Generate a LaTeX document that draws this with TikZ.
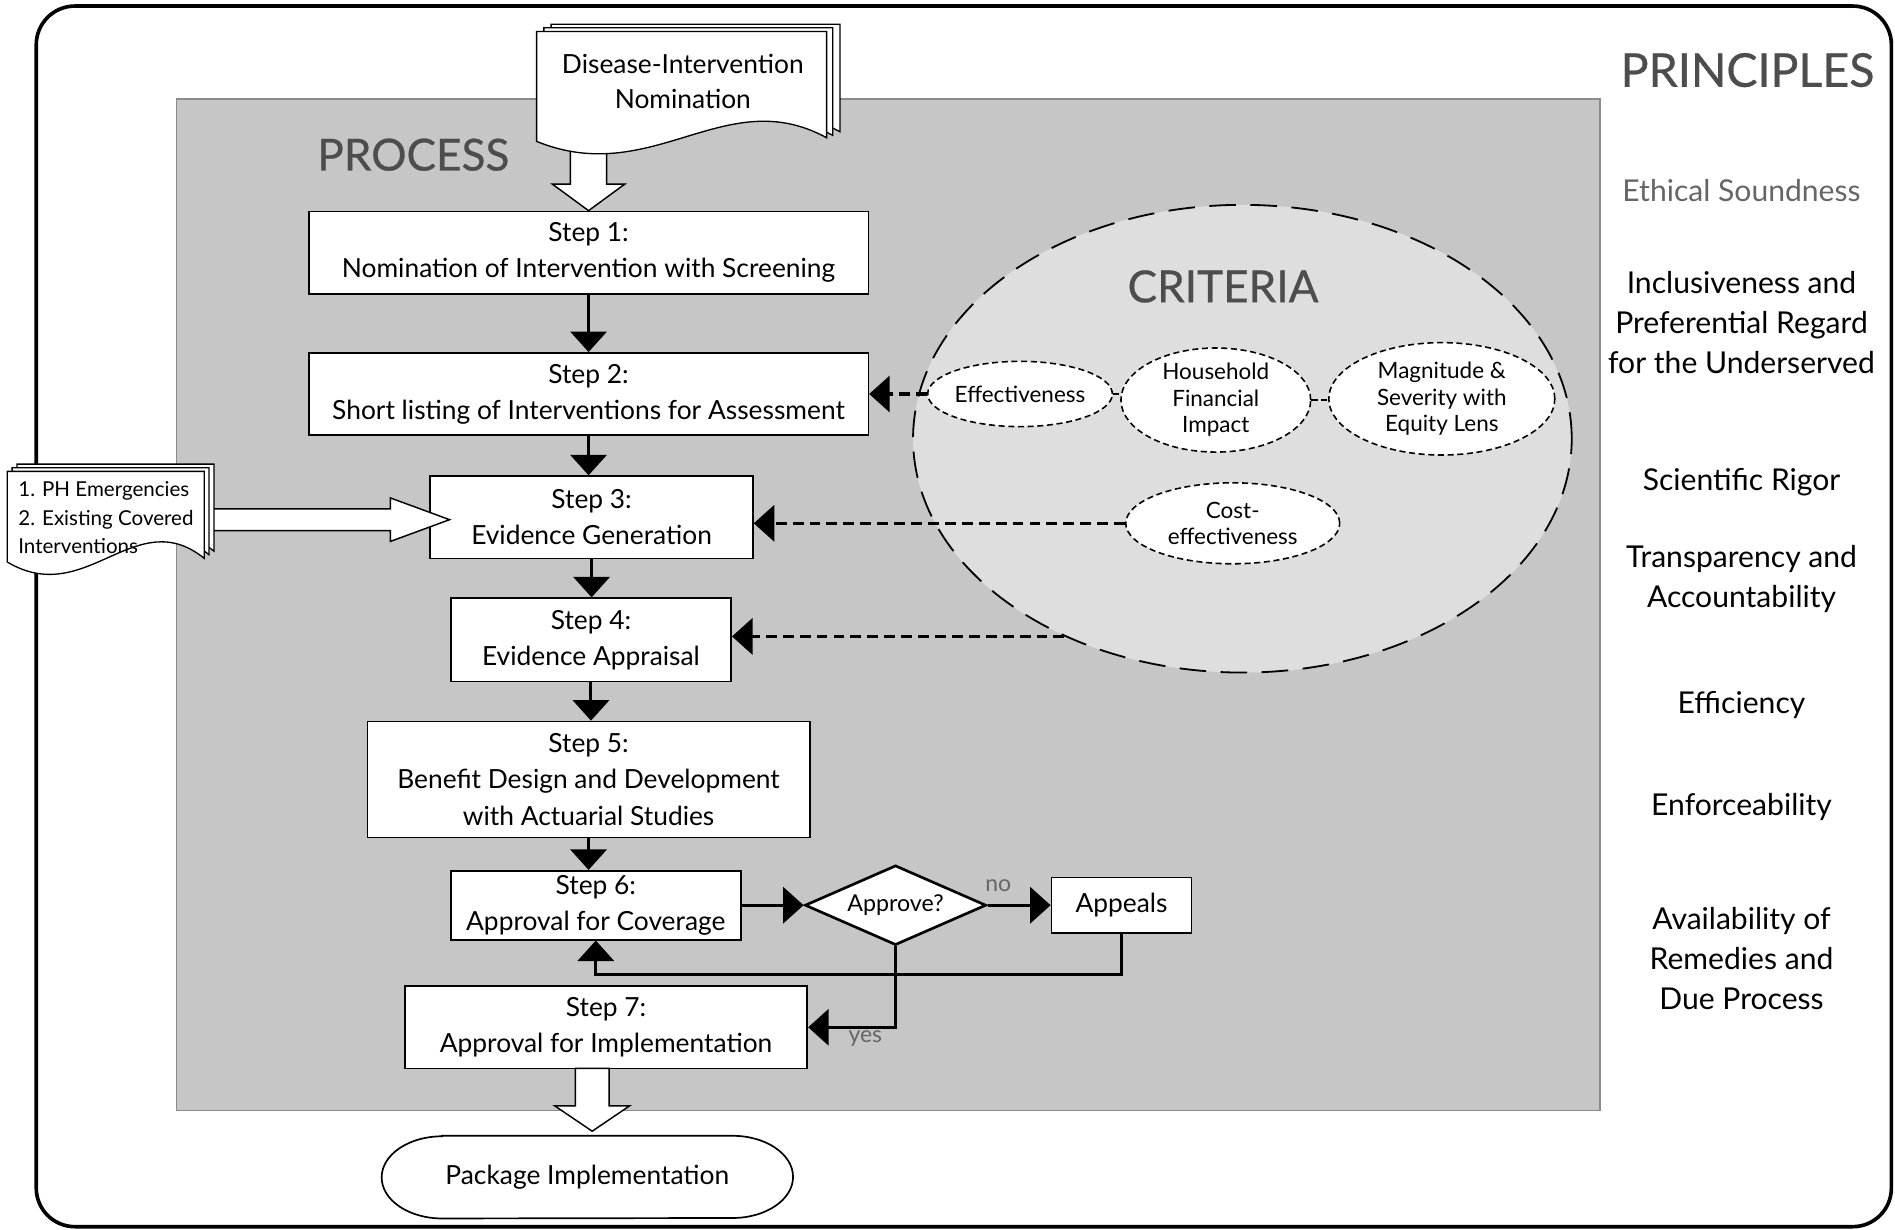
\documentclass[tikz,border=0pt]{standalone}
\usepackage{fontspec}
\setmainfont{Lato}
\newfontfamily\headfont[FakeBold=0.6]{Lato}
\usetikzlibrary{calc,arrows.meta,shapes.geometric}
\definecolor{procgray}{HTML}{C6C6C6}
\definecolor{critgray}{HTML}{DEDEDE}
\definecolor{headgray}{HTML}{4D4D4D}
\definecolor{edgegray}{HTML}{8C8C8C}
\definecolor{softgray}{HTML}{666666}
\def\docpage(#1,#2)(#3:#4){\draw[pagesheet,shift={(#1,#2)}] (0,0) -- (#3,0) -- (#3,#4) .. controls (0.65*#3,#4-46) and (0.4*#3,#4+42) .. (0,#4+3) -- cycle;}
\tikzset{
  stepbox/.style={draw, line width=1.4pt, fill=white, align=center, inner sep=0pt, font=\fontsize{21.8}{30}\selectfont},
  critbox/.style={ellipse, draw, line width=1.3pt, dash pattern=on 5pt off 3pt, fill=white, align=center, inner sep=0pt, font=\fontsize{18.6}{22}\selectfont},
  conn/.style={line width=2.5pt, -{Triangle[width=30pt,length=17pt]}},
  dconn/.style={conn, dash pattern=on 9pt off 5pt},
  dlink/.style={line width=2pt, dash pattern=on 5pt off 3pt},
  fatarrow/.style={draw, line width=1.2pt, fill=white, line join=miter},
  pagesheet/.style={draw, line width=1.1pt, fill=white},
  heading/.style={text=headgray, font=\headfont\fontsize{36.5}{40}\selectfont},
  principle/.style={align=center, font=\fontsize{24.9}{33}\selectfont},
  branch/.style={text=softgray, font=\fontsize{19}{20}\selectfont}
}
\begin{document}
\begin{tikzpicture}[x=1pt,y=-1pt]
			%%%%% START %%%%%
			\useasboundingbox (0,0) rectangle (1568,1017);
			
			\draw[line width=3pt, rounded corners=32pt] (30,5) rectangle (1565,1015);
			\draw[fill=procgray, draw=edgegray, line width=1.2pt] (146,82) rectangle (1324,919);
			
			\node[heading] (proc) at (342,128) {PROCESS};
			\node[heading, font=\headfont\fontsize{38.5}{40}\selectfont] (prin) at (1446,58) {PRINCIPLES};
			
			% criteria
			\node[ellipse, draw, line width=1.5pt, dash pattern=on 22pt off 12pt, fill=critgray, minimum width=545pt, minimum height=387pt, inner sep=0pt] (crit) at (1028,363) {};
			\node[heading] (crithead) at (1012,237) {CRITERIA};
			\node[critbox, minimum width=138pt, minimum height=54pt] (eff) at (844,326) {Effectiveness};
			\node[critbox, minimum width=157pt, minimum height=80pt] (house) at (1006,331) {Household\\Financial\\Impact};
			\node[critbox, minimum width=187pt, minimum height=93pt] (mag) at (1193,330) {Magnitude \&\\Severity with\\Equity Lens};
			\node[critbox, minimum width=177pt, minimum height=67pt] (cost) at (1020,433) {Cost-\\effectiveness};
			\draw[dlink] (eff.east) -- (eff.east -| house.west);
			\draw[dlink] (house.east) -- (house.east -| mag.west);
			
			% steps
			\node[stepbox, minimum width=463pt, minimum height=68pt] (s1) at (487,209) {Step 1:\\Nomination of Intervention with Screening};
			\node[stepbox, minimum width=463pt, minimum height=68pt] (s2) at (487,326) {Step 2:\\Short listing of Interventions for Assessment};
			\node[stepbox, minimum width=267pt, minimum height=68pt] (s3) at (489.5,428) {Step 3:\\Evidence Generation};
			\node[stepbox, minimum width=232pt, minimum height=69pt] (s4) at (489,529.5) {Step 4:\\Evidence Appraisal};
			\node[stepbox, minimum width=366pt, minimum height=96pt] (s5) at (487,645) {Step 5:\\Benefit Design and Development\\with Actuarial Studies};
			\node[stepbox, minimum width=240pt, minimum height=57pt] (s6) at (493,749) {Step 6:\\Approval for Coverage};
			\node[stepbox, minimum width=333pt, minimum height=68pt] (s7) at (501.5,850) {Step 7:\\Approval for Implementation};
			\node[diamond, aspect=2.3, draw, line width=2.2pt, fill=white, inner sep=0pt, minimum width=150pt, minimum height=66pt, font=\fontsize{19.2}{20}\selectfont] (approve) at (741,749) {Approve?};
			\node[stepbox, minimum width=116pt, minimum height=46pt] (appeals) at (928,749) {Appeals};
			
			\draw[conn] (s1.south) -- (s1.south |- s2.north);
			\draw[conn] (s2.south) -- (s2.south |- s3.north);
			\draw[conn] (s3.south) -- (s3.south |- s4.north);
			\draw[conn] (s4.south) -- (s4.south |- s5.north);
			\draw[conn] (s5.south) -- (s5.south |- s6.north);
			\draw[conn] (s6.east) -- (approve.west);
			\draw[conn] (approve.east) -- (appeals.west);
			\draw[conn] (appeals.south) |- ($(s6.south)+(0,28)$) -- (s6.south);
			\draw[conn] (approve.south) |- (s7.east);
			\node[branch] (no) at (826,733) {no};
			\node[branch] (yes) at (716,859) {yes};
			
			\draw[dconn] (eff.west) -- (s2.east);
			\draw[dconn] (cost.west) -- (cost.west -| s3.east);
			\draw[dconn] (crit.228) -- (crit.228 -| s4.east);
			
			% nomination document
			\coordinate (dtail) at (487,110);
			\draw[fatarrow] ($(dtail)+(-15,0)$) -- ($(s1.north)+(-15,-22)$) -- ($(s1.north)+(-30,-22)$) -- (s1.north) -- ($(s1.north)+(30,-22)$) -- ($(s1.north)+(15,-22)$) -- ($(dtail)+(15,0)$) -- cycle;
			\docpage(456,20)(239:89)
			\docpage(450,23)(239:89)
			\docpage(444,26)(240:88)
			\node[align=center, font=\fontsize{21.8}{29}\selectfont] (dn) at (565,67.5) {Disease-Intervention\\Nomination};
			
			% other sources
			\coordinate (ltail) at (165,430);
			\coordinate (ltip) at (372,430);
			\draw[fatarrow] ($(ltail)+(0,-9)$) -- ($(ltip)+(-49,-9)$) -- ($(ltip)+(-49,-18)$) -- (ltip) -- ($(ltip)+(-49,18)$) -- ($(ltip)+(-49,9)$) -- ($(ltail)+(0,9)$) -- cycle;
			\docpage(14,384)(163:72)
			\docpage(10,387)(163:72)
			\docpage(6,390)(163:72)
			\node[anchor=west, align=left, inner sep=0pt, font=\fontsize{17}{23.5}\selectfont] (src) at (15,428.5) {1. PH Emergencies\\2. Existing Covered\\Interventions};
			
			% package
			\coordinate (ptail) at (490,884);
			\coordinate (ptip) at (490,936);
			\draw[fatarrow] ($(ptail)+(-14,0)$) -- ($(ptip)+(-14,-21)$) -- ($(ptip)+(-31,-21)$) -- (ptip) -- ($(ptip)+(31,-21)$) -- ($(ptip)+(14,-21)$) -- ($(ptail)+(14,0)$) -- cycle;
			\node[minimum width=340pt, minimum height=68pt, inner sep=0pt, font=\fontsize{21.8}{24}\selectfont] (pkg) at (486,974) {Package Implementation};
			\draw[line width=1.4pt] ($(pkg.north west)+(50,0)$) -- ($(pkg.north east)+(-50,0)$) arc[start angle=90, end angle=-90, x radius=50pt, y radius=34pt] -- ($(pkg.south west)+(50,0)$) arc[start angle=270, end angle=90, x radius=50pt, y radius=34pt] -- cycle;
			
			% principles
			\node[principle, text=softgray] (p1) at (1441,158) {Ethical Soundness};
			\node[principle] (p2) at (1441,267) {Inclusiveness and\\Preferential Regard\\for the Underserved};
			\node[principle] (p3) at (1441,399) {Scientific Rigor};
			\node[principle] (p4) at (1441,479) {Transparency and\\Accountability};
			\node[principle] (p5) at (1441,583) {Efficiency};
			\node[principle] (p6) at (1441,668) {Enforceability};
			\node[principle] (p7) at (1441,793) {Availability of\\Remedies and\\Due Process};
			
			%%%%% END %%%%%
\end{tikzpicture}
\end{document}
